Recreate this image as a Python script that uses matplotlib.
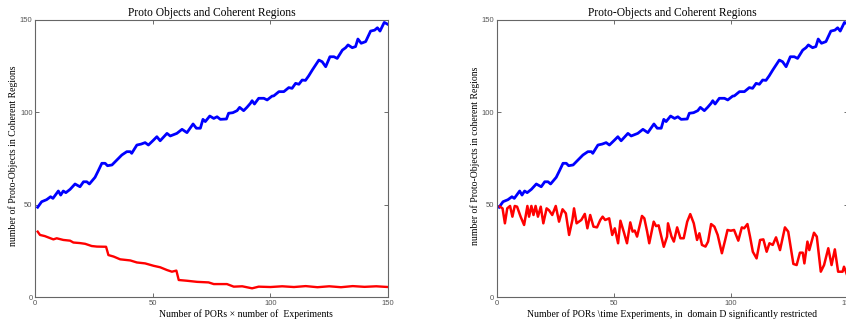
import matplotlib
matplotlib.use("Agg")
import matplotlib.pyplot as plt

# ---- data ----
blue_x = [1, 2.7, 4.8, 6.5, 7.5, 9.8, 10.8, 11.9, 13, 14.8, 16.9, 19, 20.5, 21.9, 23, 25.4, 26.8, 28.3,
          29.7, 30.7, 32.6, 34.7, 36.8, 38.9, 40.4, 41, 43.2, 45, 46.7, 48.1, 50.3, 51.7, 53.1, 56, 57.4,
          60.2, 62.4, 64.5, 67.1, 68.5, 70.2, 71.3, 72.3, 74.2, 75.9, 77.3, 78.7, 81.3, 82.2, 84, 85.8,
          86.9, 88.6, 90, 91.5, 92.2, 93.2, 95, 97.2, 98.6, 100.7, 101.4, 103.6, 105.7, 107.8, 109.2,
          110.7, 112.1, 113.5, 114.9, 116.3, 117.8, 119.2, 120.6, 122, 123.5, 125.3, 127, 128.4, 130.6,
          132, 133, 134.8, 136.2, 137.2, 138.6, 140.5, 142.6, 144.3, 145.5, 146.6, 148.4, 150]
blue_y = [48.6, 51.6, 52.7, 54.3, 53.4, 57.4, 55.2, 57.4, 56.5, 58.3, 61.2, 59.7, 62.4, 62.4, 61.2, 64.8,
          68.4, 72.4, 72.4, 71.1, 71.5, 74.2, 76.9, 78.7, 78.7, 77.8, 82.3, 82.8, 83.6, 82.3, 85, 86.8,
          84.6, 88.6, 87.2, 88.6, 90.8, 89, 93.7, 91.4, 91.4, 96.2, 95, 98, 96.7, 97.6, 96.2, 96.4, 99.5,
          99.8, 100.9, 102.7, 100.9, 102.7, 104.9, 106.3, 104.5, 107.6, 107.6, 106.7, 108.8, 108.9, 111.2,
          111.2, 113.4, 113, 115.7, 115.2, 117.5, 117.3, 119.8, 122.9, 125.6, 128.3, 127.4, 124.7, 130.1,
          130.1, 129.2, 133.7, 135, 136.5, 135, 135.6, 139.7, 137.4, 138.3, 144, 144.5, 145.8, 144, 148.7,
          147.6]

red_left_x = [1, 2, 4, 7.7, 9.1, 11.9, 14.8, 16.2, 19, 21.2, 24, 26.2, 30.1, 31.1, 33.3, 36.1, 40.4, 43.2,
              46.7, 50.3, 53.1, 56, 58.1, 60, 61, 64.5, 68.8, 73.7, 75.9, 81.5, 84.4, 88, 92.2, 95, 100,
              105, 110, 115, 120, 125, 130, 135, 140, 145, 150]
red_left_y = [35.4, 33.6, 33, 31.2, 31.8, 30.9, 30.5, 29.5, 29.2, 28.8, 27.6, 27.3, 27.2, 22.7, 21.9, 20.4,
              19.8, 18.7, 18.2, 16.9, 16.1, 14.6, 13.7, 14.3, 9.2, 8.8, 8.2, 7.9, 7, 7, 5.6, 5.8, 4.7, 5.6,
              5.4, 5.8, 5.4, 5.9, 5.3, 5.8, 5.3, 5.9, 5.5, 5.8, 5.4]

red_right_x = [1.4, 2.5, 3.5, 4.5, 5.7, 6.7, 7.7, 8.7, 10.2, 11.7, 13.1, 13.8, 14.8, 15.7, 16.6, 17.6, 18.8,
               19.9, 21.3, 22.3, 23.7, 25.2, 26.6, 28.1, 29.5, 30.9, 32.3, 33, 34.1, 36.1, 37.6, 38.7,
               39.9, 41.3, 42.8, 44.2, 45.2, 46.3, 48, 49.3, 50.4, 51.8, 52.8, 54.2, 55.6, 57, 58, 58.9,
               59.9, 62, 63, 64.2, 65.1, 67, 68, 69.1, 71.3, 72.7, 73.1, 74.6, 75.6, 77, 78.4, 79.8,
               81.3, 82.6, 84.1, 85.5, 86.5, 87.6, 89.1, 90.2, 91.5, 92.9, 94.3, 96.1, 97.5, 98.5, 99.9,
               101.3, 103.1, 104.6, 105.6, 107, 108.1, 109.3, 110.9, 112.4, 113.8, 115.2, 116.4, 117.8,
               119.2, 120.9, 123, 124.4, 126.6, 128, 129.4, 130.6, 131.3, 132.6, 133.4, 135.4, 136.6,
               138.3, 139.7, 141.5, 142.9, 144.3, 145.7, 147.6, 148.2, 149.5]
red_right_y = [48.9, 48, 39.9, 48, 49.3, 43.5, 49.3, 48.9, 43.5, 39, 49.3, 43.5, 49.3, 44.4, 49.3, 43.5,
               48.9, 39.9, 48, 47, 44.4, 49.3, 40.8, 47.5, 45.3, 33.6, 41.7, 48, 39.9, 41.7, 45, 37.2,
               44.4, 38.1, 37.7, 41.7, 43.5, 41.7, 42.6, 33.6, 37.2, 29.1, 41.3, 35.4, 29.1, 40.4, 35.4,
               36, 32.7, 43.9, 42.6, 35.4, 29.1, 40.8, 38.4, 38.8, 27.2, 32.7, 39.9, 32.7, 30, 37.7,
               31.8, 31.8, 40.8, 44.9, 39.9, 30.9, 34.5, 28.2, 27.3, 30, 39.5, 38.1, 33.6, 23.7, 30.9,
               36.3, 35.9, 36.3, 30.5, 37.7, 37.2, 39.5, 32.7, 24.5, 20.9, 30.9, 31.2, 24.5, 29.1, 28.2,
               32.3, 25.4, 37.7, 35.4, 17.9, 17.3, 24, 24, 18.2, 30, 25.4, 34.8, 32.7, 13.7, 17.3, 26.4,
               17.3, 25.8, 13.7, 13.7, 16.4, 12]

x_ticks = [0, 50, 100, 150]
y_ticks = [0, 50, 100, 150]

titles = ["Proto Objects and Coherent Regions", "Proto-Objects and Coherent Regions"]
xlabels = ["Number of PORs \u00d7 number of  Experiments",
           r"Number of PORs \time Experiments, in  domain D significantly restricted"]
ylabels = ["number of Proto-Objects in Coherent Regions",
           "number of Proto-Objects in coherent Regions"]
xlabel_pos = [0.597, 0.5]

W, H = 846, 321
fig = plt.figure(figsize=(W / 100, H / 100), dpi=100)

serif = "Liberation Serif"
sans = "Liberation Sans"

ax1 = fig.add_axes([35.3 / W, 24 / H, 352.7 / W, 277 / H])
ax2 = fig.add_axes([496.7 / W, 24 / H, 351.5 / W, 277 / H])

ax1.plot(blue_x, blue_y, color="#0000ff", lw=2.0, solid_joinstyle="round")
ax1.plot(red_left_x, red_left_y, color="#ff0000", lw=1.7, solid_joinstyle="round")
ax2.plot(blue_x, blue_y, color="#0000ff", lw=2.0, solid_joinstyle="round")
ax2.plot(red_right_x, red_right_y, color="#ff0000", lw=1.8, solid_joinstyle="round")

for ax, t, xl, yl, xp in zip([ax1, ax2], titles, xlabels, ylabels, xlabel_pos):
    ax.set_xlim(0, 150)
    ax.set_ylim(0, 150)
    ax.set_xticks(x_ticks)
    ax.set_yticks(y_ticks)
    ax.tick_params(direction="in", length=3, width=0.6, colors="#555555",
                   labelsize=5.5, top=True, right=True, pad=2)
    for lab in ax.get_xticklabels() + ax.get_yticklabels():
        lab.set_family(sans)
    for sp in ax.spines.values():
        sp.set_color("#666666")
        sp.set_linewidth(0.8)
    ax.set_title(t, fontsize=8.3, family=serif, pad=3)
    ax.set_xlabel(xl, fontsize=7, family=serif, labelpad=1)
    ax.xaxis.set_label_coords(xp, -0.045)
    ax.set_ylabel(yl, fontsize=7, family=serif, labelpad=2)

ax1.yaxis.set_label_coords(-17.8 / 352.7, 0.51)
ax2.yaxis.set_label_coords(-17.2 / 351.5, 0.51)

fig.savefig("out.png", dpi=100)
